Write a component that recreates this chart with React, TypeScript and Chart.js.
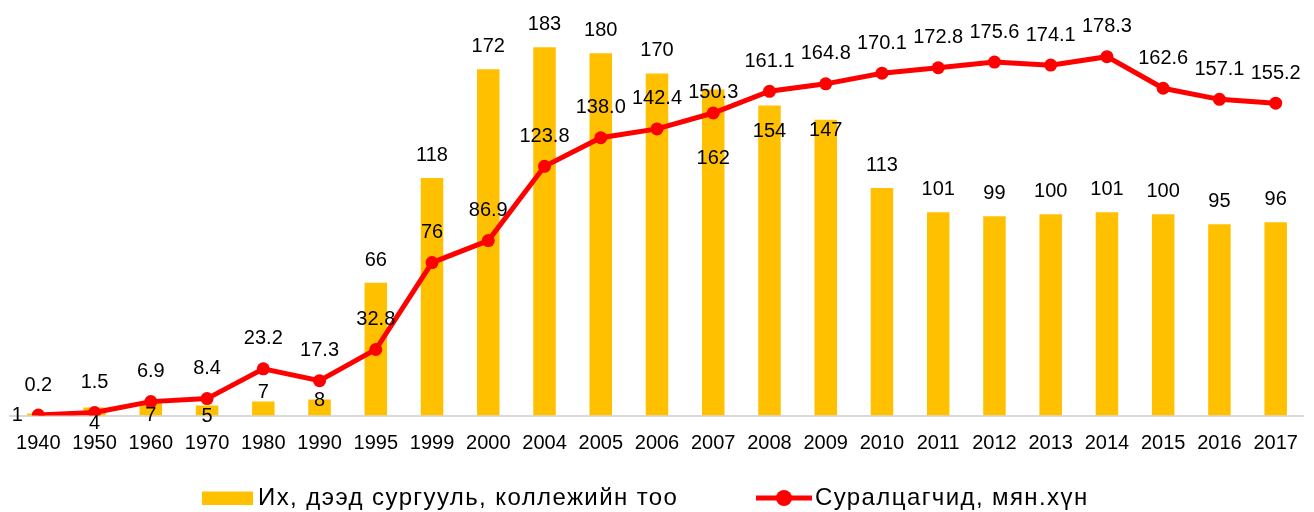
import React, { useEffect, useRef } from "react";
import { Chart, registerables } from "chart.js";

Chart.register(...registerables);

const categories = [
  "1940", "1950", "1960", "1970", "1980", "1990", "1995", "1999", "2000",
  "2004", "2005", "2006", "2007", "2008", "2009", "2010", "2011", "2012",
  "2013", "2014", "2015", "2016", "2017",
];
const institutions = [1, 4, 7, 5, 7, 8, 66, 118, 172, 183, 180, 170, 162, 154, 147, 113, 101, 99, 100, 101, 100, 95, 96];
const students = [0.2, 1.5, 6.9, 8.4, 23.2, 17.3, 32.8, 76, 86.9, 123.8, 138.0, 142.4, 150.3, 161.1, 164.8, 170.1, 172.8, 175.6, 174.1, 178.3, 162.6, 157.1, 155.2];
const studentDecimals = [1, 1, 1, 1, 1, 1, 1, 0, 1, 1, 1, 1, 1, 1, 1, 1, 1, 1, 1, 1, 1, 1, 1];

const barLegend = "Их, дээд сургууль, коллежийн тоо";
const lineLegend = "Суралцагчид, мян.хүн";

// label placement offsets (pixels) relative to bar top / point centre
const barLabelDx = [-21, 0, 0, 0, 0, 0, 0, 0, 0, 0, 0, 0, 0, 0, 0, 0, 0, 0, 0, 0, 0, 0, 0];
const barLabelDy = [2, 16, 14, 11, -9, 1, -22.5, -22.5, -22.5, -22.5, -22.5, -22.5, 69, 25.5, 10.5, -22.5, -22.5, -22.5, -22.5, -22.5, -22.5, -22.5, -22.5];
const lineLabelDy = [-30, -30, -30, -30, -30, -30, -30, -30, -30, -30, -30, -30, -20.5, -30, -30, -30, -30, -30, -30, -30, -30, -30, -30];

const BAR_COLOR = "#FFC000";
const LINE_COLOR = "#FF0000";
const FONT = "'Liberation Sans', Arial, sans-serif";

const labelsPlugin = {
  id: "customLabels",
  afterDatasetsDraw(chart: any) {
    const ctx = chart.ctx;
    ctx.save();
    ctx.font = `20px ${FONT}`;
    ctx.fillStyle = "#000";
    ctx.textAlign = "center";
    ctx.textBaseline = "middle";
    const lineMeta = chart.getDatasetMeta(0);
    const barMeta = chart.getDatasetMeta(1);
    barMeta.data.forEach((el: any, i: number) => {
      ctx.fillText(String(institutions[i]), el.x + barLabelDx[i], el.y + barLabelDy[i]);
    });
    lineMeta.data.forEach((el: any, i: number) => {
      ctx.fillText(students[i].toFixed(studentDecimals[i]), el.x, el.y + lineLabelDy[i]);
    });
    ctx.restore();
  },
  afterDraw(chart: any) {
    const ctx = chart.ctx;
    ctx.save();
    const cy = 498;
    ctx.fillStyle = BAR_COLOR;
    ctx.fillRect(202, 491.5, 51, 13.5);
    ctx.strokeStyle = LINE_COLOR;
    ctx.lineWidth = 5;
    ctx.beginPath();
    ctx.moveTo(756, cy);
    ctx.lineTo(812, cy);
    ctx.stroke();
    ctx.fillStyle = LINE_COLOR;
    ctx.beginPath();
    ctx.arc(784, cy, 8, 0, Math.PI * 2);
    ctx.fill();
    ctx.fillStyle = "#000";
    ctx.font = `24px ${FONT}`;
    (ctx as any).letterSpacing = "1.4px";
    ctx.textAlign = "left";
    ctx.textBaseline = "middle";
    ctx.fillText(barLegend, 258, cy);
    ctx.fillText(lineLegend, 815, cy);
    ctx.restore();
  },
};

export default function App() {
  const ref = useRef<HTMLCanvasElement>(null);
  useEffect(() => {
    if (!ref.current) return;
    const chart = new Chart(ref.current, {
      type: "bar",
      data: {
        labels: categories,
        datasets: [
          {
            type: "line",
            label: lineLegend,
            data: students,
            borderColor: LINE_COLOR,
            backgroundColor: LINE_COLOR,
            borderWidth: 5,
            pointRadius: 6.5,
            pointBackgroundColor: LINE_COLOR,
            pointBorderColor: LINE_COLOR,
            pointBorderWidth: 0,
            tension: 0,
            order: 0,
          } as any,
          {
            type: "bar",
            label: barLegend,
            data: institutions,
            backgroundColor: BAR_COLOR,
            categoryPercentage: 1,
            barPercentage: 0.4,
            order: 1,
          },
        ],
      },
      options: {
        responsive: false,
        animation: false,
        layout: { padding: { left: 7.6, right: 1.6, top: 13, bottom: 0 } },
        plugins: {
          legend: { display: false },
          tooltip: { enabled: false },
        },
        scales: {
          x: {
            offset: true,
            grid: { display: false, drawTicks: false },
            border: { display: true, color: "#D9D9D9", width: 2 },
            ticks: {
              color: "#000",
              font: { family: FONT, size: 20 },
              padding: 16,
              maxRotation: 0,
              autoSkip: false,
            },
            afterFit(scale: any) {
              scale.height = 512 - 415.5 - 13 + 13;
            },
          },
          y: {
            display: false,
            min: 0,
            max: 200,
          },
        },
      },
      plugins: [labelsPlugin],
    });
    return () => chart.destroy();
  }, []);
  return (
    <div style={{ position: "absolute", left: 0, top: 0, width: 1314, height: 512, background: "#fff" }}>
      <canvas ref={ref} width={1314} height={512} style={{ display: "block" }} />
    </div>
  );
}
